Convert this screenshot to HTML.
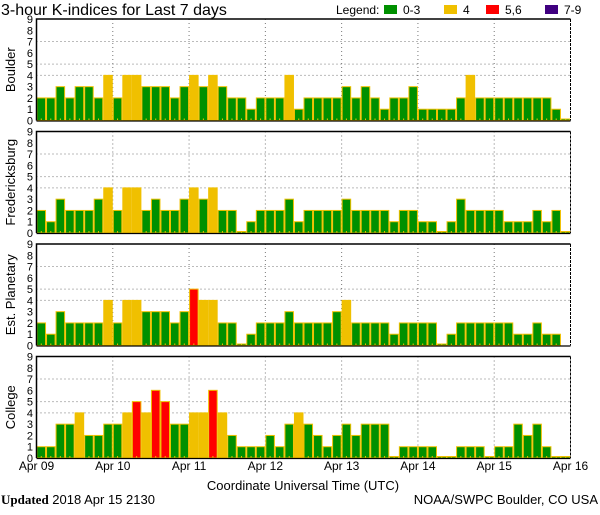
<!DOCTYPE html>
<html><head><meta charset="utf-8"><style>
body{margin:0;background:#fff;}
svg text{font-family:"Liberation Sans",sans-serif;}
</style></head><body>
<svg id="chart" width="600" height="510" xmlns="http://www.w3.org/2000/svg">
<text x="1" y="15" font-size="16" fill="#000">3-hour K-indices for Last 7 days</text>
<g font-size="12">
<text x="336" y="14">Legend:</text>
<rect x="384" y="5" width="13" height="9" fill="#009000"/><text x="403" y="14">0-3</text>
<rect x="444" y="5" width="13" height="9" fill="#f0c000"/><text x="463" y="14">4</text>
<rect x="486" y="5" width="13" height="9" fill="#ff0000"/><text x="505" y="14">5,6</text>
<rect x="545" y="5" width="13" height="9" fill="#400080"/><text x="564" y="14">7-9</text>
</g>
<g id="panels"></g>
<text x="303" y="490" font-size="13" text-anchor="middle">Coordinate Universal Time (UTC)</text>
<text x="1" y="504" font-size="13"><tspan font-family="Liberation Serif" font-weight="bold">Updated</tspan> 2018 Apr 15 2130</text>
<text x="598" y="504" font-size="13" text-anchor="end">NOAA/SWPC Boulder, CO USA</text>
</svg>
<script>
const stations = ["Boulder","Fredericksburg","Est. Planetary","College"];
const dayLabels = ["Apr 09","Apr 10","Apr 11","Apr 12","Apr 13","Apr 14","Apr 15","Apr 16"];
const yTicks = [0,1,2,3,4,5,6,7,8,9];
const boulder = [2,2,3,2,3,3,2,4,2,4,4,3,3,3,2,3,4,3,4,3,2,2,1,2,2,2,4,1,
 2,2,2,2,3,2,3,2,1,2,2,3,1,1,1,1,2,4,2,2,2,2,2,2,2,2,1,0];
const fredericksburg = [2,1,3,2,2,2,3,4,2,4,4,2,3,2,2,3,4,3,4,2,2,0,1,2,2,2,3,1,
 2,2,2,2,3,2,2,2,2,1,2,2,1,1,0,1,3,2,2,2,2,1,1,1,2,1,2,0];
const planetary = [2,1,3,2,2,2,2,4,2,4,4,3,3,3,2,3,5,4,4,2,2,0,1,2,2,2,3,2,
 2,2,2,3,4,2,2,2,2,1,2,2,2,2,0,1,2,2,2,2,2,2,1,1,2,1,1,null];
const college = [1,1,3,3,4,2,2,3,3,4,5,4,6,5,3,3,4,4,6,4,2,1,1,1,2,1,3,4,
 3,2,1,2,3,2,3,3,3,0,1,1,1,1,0,0,1,1,1,0,1,1,3,2,3,1,0,0];
const seriesList = [boulder,fredericksburg,planetary,college];

const NS="http://www.w3.org/2000/svg";
const X0=36.5, X1=570.5, N=56;
const panelTops=[19,131.5,244,356.5], PH=101.5;
function xs(i){return X0+(X1-X0)*i/N;}
function ys(p,v){return panelTops[p]+PH-PH*v/9;}
function color(v){return v<=3?"#009000":v==4?"#f0c000":v<=6?"#ff0000":"#400080";}
function mk(tag,attrs,parent){const e=document.createElementNS(NS,tag);for(const k in attrs)e.setAttribute(k,attrs[k]);parent.appendChild(e);return e;}
const root=document.getElementById("panels");
seriesList.forEach((data,p)=>{
  const g=mk("g",{},root);
  
  
  const top=panelTops[p], bot=top+PH;
  // grid
  [4,5,7].forEach(v=>{const l=mk("line",{x1:X0,x2:X1,y1:ys(p,v),y2:ys(p,v),stroke:"#777","stroke-dasharray":"1,3"},g);
    
    });
  for(let d=1;d<7;d++){const x=xs(d*8);const l=mk("line",{x1:x,x2:x,y1:top,y2:bot,stroke:"#777","stroke-dasharray":"1,3"},g);
    
    }
  // bars
  data.forEach((v,i)=>{
    if(v===null)return;
    const h=v===0?1.5:PH*v/9;
    const r=mk("rect",{x:xs(i)+0.5,y:bot-h,width:xs(i+1)-xs(i)-1,height:h,fill:color(v),stroke:"#f0c000","stroke-width":1},g);
    
    
    const t=mk("rect",{x:(xs(i)+xs(i+1))/2-0.5,y:bot-2,width:1,height:2,fill:"#f0c000"},g);
    
    
  });
  // frame
  const f=mk("path",{d:`M${X0},${bot}V${top}H${X1}`,fill:"none",stroke:"#000","stroke-width":1.5},g);
  
  
  const rb=mk("line",{x1:X1,x2:X1,y1:top,y2:bot,stroke:"#000","stroke-dasharray":"3,1"},g);
  
  
  const bb=mk("line",{x1:X0,x2:X1,y1:bot+0.5,y2:bot+0.5,stroke:"#000","stroke-width":1.2},g);
  
  
  yTicks.forEach(v=>{const t=mk("text",{x:33,y:ys(p,v)+4,"font-size":11,"text-anchor":"end"},g);t.textContent=v;
    
    });
  const cy=top+PH/2;
  const s=mk("text",{x:15,y:cy,"font-size":13,"text-anchor":"middle",transform:`rotate(-90 15 ${cy})`},g);
  s.textContent=stations[p];
  
  
});
dayLabels.forEach((lab,d)=>{
  const t=mk("text",{x:xs(d*8),y:470,"font-size":12,"text-anchor":"middle"},root);
  t.textContent=lab;
  
  
});
</script>
</body></html>
